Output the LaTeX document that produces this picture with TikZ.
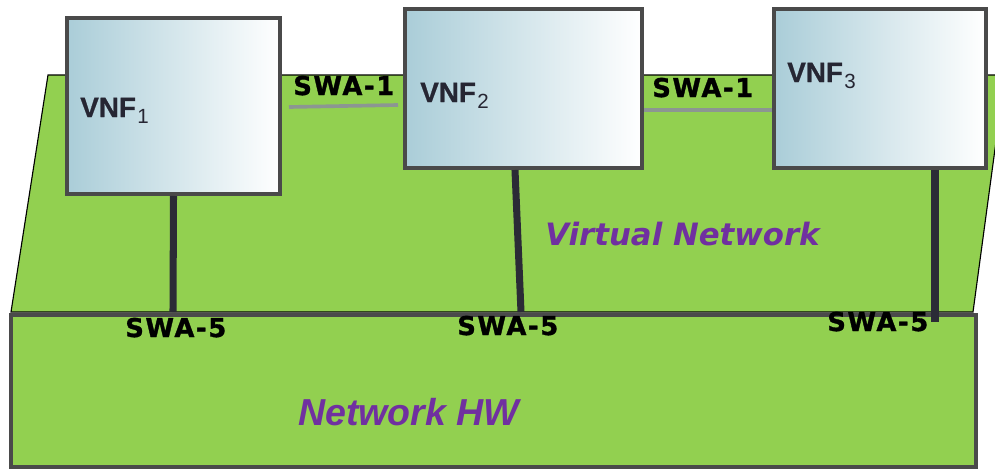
\documentclass[tikz,border=0pt]{standalone}
\usepackage{fontspec}
\setmainfont{Liberation Sans}[BoldFeatures={FakeBold=0.8}]
\newfontfamily\swafont{DejaVu Sans}[LetterSpace=6, BoldFeatures={FakeBold=1.2}]
\newfontfamily\dejavufont{DejaVu Sans}
\usetikzlibrary{calc,positioning}

\definecolor{vnfgreen}{HTML}{92D050}
\definecolor{vnfblue}{HTML}{AACDD8}
\definecolor{boxgrey}{HTML}{4A4A4A}
\definecolor{linkdark}{HTML}{2B2B36}
\definecolor{linkgrey}{HTML}{8C9692}
\definecolor{netpurple}{HTML}{7030A0}
\definecolor{vnftext}{HTML}{262633}

\newcommand{\vnfname}[1]{VNF\kern1pt\raisebox{-4.3pt}{\fontsize{14.6}{15}\selectfont\mdseries #1}}

\begin{document}
\begin{tikzpicture}[x=0.025cm, y=-0.025cm,
  vnfbox/.style={rectangle, draw=boxgrey, line width=2.8pt, left color=vnfblue, right color=white, inner sep=0pt},
  vnflabel/.style={anchor=base west, inner sep=0pt, text=vnftext, font=\fontsize{19.8}{22}\selectfont\bfseries},
  swalabel/.style={anchor=base west, inner sep=0pt, font=\swafont\bfseries\fontsize{18.4}{20}\selectfont},
  uplink/.style={draw=linkdark, line width=5pt},
  swaline/.style={draw=linkgrey, line width=2.6pt}]

\clip (0,0) rectangle (995,468);

% virtual network layer
\draw[fill=vnfgreen, draw=black, line width=0.8pt] (48,75) -- (1005,75) -- (973,312) -- (11,312) -- cycle;
\node[anchor=base west, inner sep=0pt, text=netpurple, font=\dejavufont\bfseries\itshape\fontsize{21.9}{24}\selectfont] (vnet) at (545,245) {Virtual Network};

% hardware layer
\node[rectangle, draw=boxgrey, line width=2.8pt, fill=vnfgreen, minimum width=24.125cm, minimum height=3.8cm] (hw) at (493.5,391) {};
\node[anchor=base west, inner sep=0pt, text=netpurple, font=\bfseries\itshape\fontsize{26.7}{30}\selectfont] (hwlabel) at (298,425) {Network HW};

\coordinate (p1) at (173,312);
\coordinate (p2) at (521,312);
\coordinate (p3) at (935,322);

% the VNFs
\node[vnfbox, minimum width=5.325cm, minimum height=4.4cm] (vnf1) at (173.5,106) {};
\node[vnfbox, minimum width=5.925cm, minimum height=3.975cm] (vnf2) at (523.5,88.5) {};
\node[vnfbox, minimum width=5.3cm, minimum height=3.975cm] (vnf3) at (880,88.5) {};

\node[vnflabel] (n1) at (80,117) {\vnfname{1}};
\node[vnflabel] (n2) at (420,102) {\vnfname{2}};
\node[vnflabel] (n3) at (787,82) {\vnfname{3}};

% links
\draw[uplink] (vnf1.south) -- (p1);
\draw[uplink] ($(vnf2.south)+(-8.5,0)$) -- (p2);
\draw[uplink] ($(vnf3.south)+(55,0)$) -- (p3);

\draw[swaline] ($(vnf1.east)+(7,1)$) -- ($(vnf2.west)+(-5,16.5)$);
\draw[swaline] ($(vnf2.east)+(0,21.5)$) -- ($(vnf3.west)+(0,21.5)$);

\node[swalabel] (s11) at (293,95) {SWA-1};
\node[swalabel] (s12) at (652,97) {SWA-1};
\node[swalabel] (s51) at (125,337) {SWA-5};
\node[swalabel] (s52) at (457,335) {SWA-5};
\node[swalabel] (s53) at (827,331) {SWA-5};

\end{tikzpicture}
\end{document}
